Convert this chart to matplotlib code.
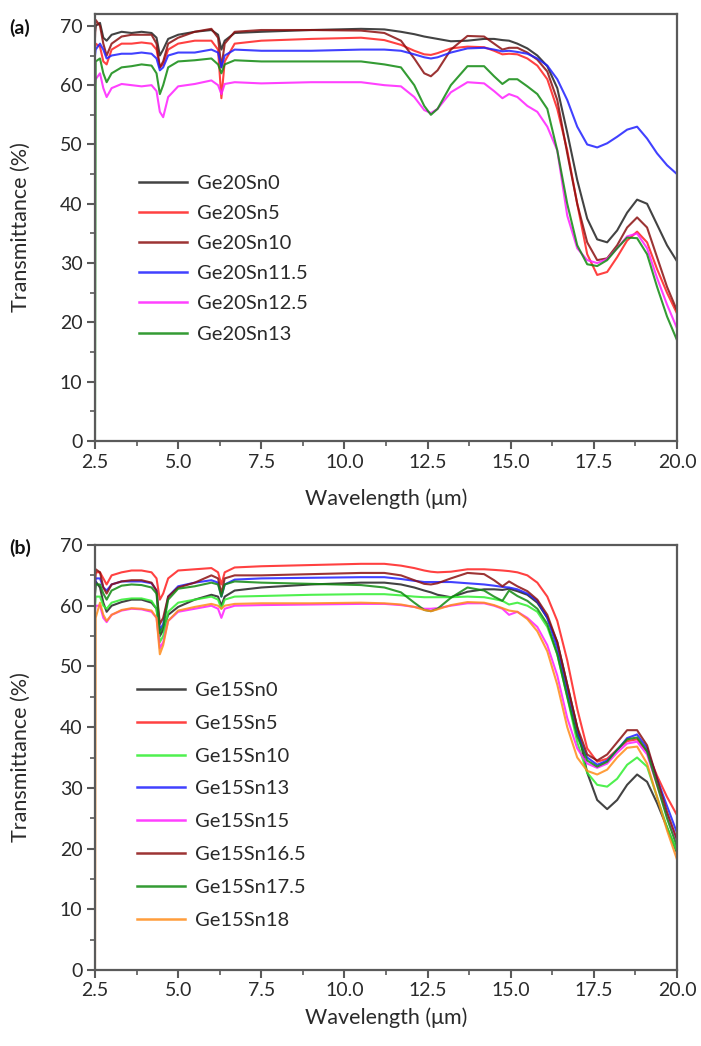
import matplotlib
matplotlib.use("Agg")
import matplotlib.pyplot as plt
from matplotlib.ticker import MultipleLocator, FixedLocator

plt.rcParams['font.family'] = ['Lato', 'DejaVu Sans']

# ---------------- data ----------------
wavelength_um = [2.5, 2.52, 2.65, 2.75, 2.85, 3.0, 3.3, 3.6, 3.9, 4.2, 4.35, 4.45, 4.55, 4.7,
                 5.0, 5.5, 6.0, 6.2, 6.3, 6.4, 6.7, 7.5, 9.0, 10.5, 11.2, 11.7, 12.1, 12.4,
                 12.6, 12.8, 13.2, 13.7, 14.2, 14.5, 14.75, 14.95, 15.2, 15.5, 15.8, 16.1,
                 16.4, 16.7, 17.0, 17.3, 17.6, 17.9, 18.2, 18.5, 18.8, 19.1, 19.4, 19.7, 20.0]

# panel (a)
labels_a = ["Ge20Sn0", "Ge20Sn5", "Ge20Sn10", "Ge20Sn11.5", "Ge20Sn12.5", "Ge20Sn13"]
ge20sn0 = [69, 70, 70.5, 68, 67.5, 68.5, 69, 68.8, 69, 68.8, 68, 65, 66, 67.8,
           68.5, 69, 69.3, 68.5, 66, 67.5, 68.8, 69, 69.3, 69.5, 69.4, 69, 68.6, 68.2,
           68, 67.8, 67.4, 67.5, 67.8, 67.8, 67.6, 67.5, 67, 66.2, 65, 63.2,
           59.5, 52, 44, 37.5, 34, 33.5, 35.5, 38.5, 40.7, 40, 36.5, 33, 30.3]
ge20sn5 = [66, 67, 66.5, 64, 63.5, 66, 67, 67, 67.2, 67, 66, 63, 63.5, 66,
           67, 67.5, 67.5, 66, 57.8, 64, 67, 67.5, 67.8, 68, 67.6, 66.8, 65.8, 65.2,
           65.1, 65.4, 66.2, 66.5, 66.4, 65.8, 65.2, 65.3, 65.2, 64.5, 63.3, 61,
           56, 49, 40, 31.5, 28, 28.5, 31, 33.8, 35.3, 33.5, 29, 25, 21.5]
ge20sn10 = [68, 71, 70, 67, 65, 67, 68.2, 68.5, 68.5, 68.5, 67, 63, 64, 67,
            68, 69, 69.5, 68, 63, 67, 69, 69.3, 69.3, 69.2, 68.8, 67.5, 64.5, 62,
            61.5, 62.5, 66, 68.3, 68.2, 67, 66, 66.3, 66.3, 65.5, 64.3, 62.3,
            57.5, 48.5, 40, 33.5, 30.5, 30.8, 33, 36, 37.7, 36, 31, 26, 22]
ge20sn11_5 = [65, 66, 67, 66, 64.5, 65, 65.3, 65.3, 65.5, 65.3, 64.5, 62.5, 63, 65,
              65.5, 65.5, 66, 65.5, 63, 65, 66, 65.8, 65.8, 66, 66, 65.8, 65.2, 64.7,
              64.5, 64.7, 65.5, 66.2, 66.3, 66, 65.7, 65.8, 65.6, 65.3, 64.5, 63.3,
              61, 57.5, 53, 50, 49.5, 50.2, 51.3, 52.5, 53, 51, 48.5, 46.5, 45]
ge20sn12_5 = [60, 61, 62, 59.5, 58, 59.5, 60.2, 60, 59.8, 60, 59, 55.5, 54.6, 58,
              59.8, 60.2, 60.8, 60, 58.5, 60.2, 60.5, 60.3, 60.5, 60.5, 60, 59.8, 58, 55.8,
              55.3, 56, 58.8, 60.5, 60.3, 59, 57.8, 58.5, 58, 56.5, 55.5, 53,
              49, 38, 32.5, 30.5, 30, 30.7, 32.5, 34.5, 35, 32.5, 27.5, 23, 19]
ge20sn13 = [0, 64, 64.5, 62, 60.5, 62, 63, 63.2, 63.5, 63.3, 62, 58.5, 60, 63,
            64, 64.2, 64.5, 63.5, 62, 63.5, 64.2, 64, 64, 64, 63.5, 63, 60, 56.5,
            55, 56, 60, 63.2, 63.2, 61.5, 60.2, 61, 61, 59.8, 58.5, 56,
            49, 40, 33, 29.8, 29.5, 30.5, 32.5, 34.3, 34.2, 31.5, 26, 21, 17]

# panel (b)
labels_b = ["Ge15Sn0", "Ge15Sn5", "Ge15Sn10", "Ge15Sn13", "Ge15Sn15", "Ge15Sn16.5",
            "Ge15Sn17.5", "Ge15Sn18"]
ge15sn0 = [62, 64, 63, 60.5, 59, 60, 60.6, 61, 61, 60.5, 59.5, 55, 56, 58.5,
           59.8, 61, 61.8, 61.5, 60, 61.5, 62.5, 63, 63.5, 63.8, 63.8, 63.5, 63, 62.5,
           62.2, 61.8, 61.4, 62.3, 62.7, 62.7, 62.6, 62.8, 62.4, 61.8, 60.5, 58,
           54, 47, 40, 32.5, 28, 26.5, 28, 30.5, 32.2, 31, 27.5, 23.5, 19.3]
ge15sn5 = [64, 65.5, 65.5, 64.5, 63.5, 65, 65.5, 65.8, 65.8, 65.5, 64.5, 61, 62, 64.5,
           65.8, 66, 66.2, 65.5, 63.5, 65.5, 66.3, 66.5, 66.7, 66.9, 66.9, 66.6, 66.2, 65.8,
           65.6, 65.5, 65.6, 66, 66, 65.9, 65.8, 65.7, 65.5, 65, 63.8, 61.5,
           57.5, 51, 43, 36.5, 34.3, 34.8, 36.3, 37.7, 38, 36, 32, 28.5, 25.5]
ge15sn10 = [60, 61.5, 61.5, 60, 59.5, 60.5, 61, 61.2, 61.2, 60.8, 59.5, 54, 55, 59,
            60.5, 61, 61.5, 61, 59.5, 61, 61.5, 61.6, 61.8, 61.9, 61.9, 61.7, 61.5, 61.4,
            61.4, 61.4, 61.4, 61.5, 61.4, 61.1, 60.8, 60.2, 60.5, 60, 59, 56.5,
            52, 45, 37.5, 32.5, 30.5, 30.2, 31.5, 33.8, 35, 33.5, 28.5, 23.5, 19.5]
ge15sn13 = [63, 64.5, 64.5, 63, 62.5, 63.5, 64, 64, 64, 63.7, 62.5, 56, 57, 61.5,
            63.2, 63.8, 64.2, 63.8, 61.5, 63.5, 64.3, 64.5, 64.6, 64.7, 64.7, 64.4, 64.1, 63.9,
            63.9, 63.9, 63.9, 63.7, 63.5, 63.3, 63.1, 63, 62.7, 62, 60.8, 58,
            53, 46, 39, 35, 33.8, 34.5, 36.2, 38.2, 38.8, 36.5, 31.5, 27, 22.6]
ge15sn15 = [59, 60, 60, 58, 57.3, 58.5, 59.2, 59.5, 59.4, 59, 58, 53, 54, 57.5,
            59, 59.5, 60, 59.5, 58, 59.5, 60, 60.1, 60.2, 60.3, 60.3, 60.1, 59.8, 59.5,
            59.5, 59.6, 60, 60.4, 60.4, 60, 59.5, 58.5, 59, 58, 56.5, 53.5,
            48.5, 41.5, 36.5, 34, 33.3, 34, 35.8, 37.3, 37.6, 35.5, 30.5, 25.5, 21]
ge15sn16_5 = [64, 66, 65.5, 63, 62, 63.5, 64, 64.2, 64.2, 63.8, 62.5, 57, 58, 61.5,
              63, 63.8, 65, 64.5, 62, 64.5, 65, 65, 65.2, 65.4, 65.4, 65, 64.2, 63.6,
              63.5, 63.7, 64.5, 65.4, 65.2, 64.2, 63.2, 64, 63.2, 62.4, 61, 58.5,
              54, 47, 40, 35.5, 34.5, 35.5, 37.5, 39.5, 39.5, 37, 31.5, 26, 21.5]
ge15sn17_5 = [62, 63.5, 63.5, 62, 61, 62.5, 63.3, 63.5, 63.4, 63, 62, 55.5, 56.5, 61,
              62.8, 63.2, 63.8, 63.5, 61.5, 63.5, 64, 63.8, 63.6, 63.4, 63, 62.2, 60.5, 59.3,
              59.1, 59.5, 61.3, 63, 62.5, 61.5, 60.8, 62.5, 61.6, 60.8, 59.5, 57,
              52, 45, 38.5, 34.5, 33.5, 34.3, 36.3, 38, 38.3, 36, 30.5, 25, 20.3]
ge15sn18 = [0, 58, 60.5, 58.5, 57.5, 58.5, 59.3, 59.6, 59.5, 59.2, 58, 52, 53.5, 57.5,
            59.2, 59.8, 60.3, 60, 59.5, 60, 60.3, 60.4, 60.4, 60.5, 60.4, 60.2, 59.8, 59.3,
            59.1, 59.4, 60.1, 60.6, 60.5, 60.1, 59.6, 59.2, 59, 57.8, 55.8, 52.5,
            47, 40, 35, 32.8, 32.2, 33, 35, 36.6, 36.8, 34, 28.5, 23, 18.2]

series_a = [ge20sn0, ge20sn5, ge20sn10, ge20sn11_5, ge20sn12_5, ge20sn13]
series_b = [ge15sn0, ge15sn5, ge15sn10, ge15sn13, ge15sn15, ge15sn16_5, ge15sn17_5, ge15sn18]
colors_a = ['#222222', '#ff2020', '#8b1010', '#2020ff', '#ff20ff', '#108a10']
colors_b = ['#222222', '#ff2020', '#30ee30', '#2020ff', '#ff20ff', '#8b1010', '#108a10', '#ff8c1a']

xticks = [2.5, 5.0, 7.5, 10.0, 12.5, 15.0, 17.5, 20.0]
xticklabels = ["2.5", "5.0", "7.5", "10.0", "12.5", "15.0", "17.5", "20.0"]
yticks = [0, 10, 20, 30, 40, 50, 60, 70]

# ---------------- figure ----------------
W, H = 701, 1046
fig = plt.figure(figsize=(W / 100, H / 100), dpi=100)

def px_axes(l, t, r, b):
    return fig.add_axes([l / W, 1 - b / H, (r - l) / W, (b - t) / H])

ax_a = px_axes(95, 14, 677, 441)
ax_b = px_axes(95, 545, 677, 970)

spine_col = '#5a5a5a'
text_col = '#2a2a2a'

def style(ax, ymax, xlabel_y, leg_anchor, leg_spacing, series, labels, colors):
    for ys, lab, c in zip(series, labels, colors):
        ax.plot(wavelength_um, ys, color=c, lw=1.5, alpha=0.85, label=lab)
    ax.set_xlim(2.5, 20.0)
    ax.set_ylim(0, ymax)
    ax.xaxis.set_major_locator(FixedLocator(xticks))
    ax.set_xticklabels(xticklabels)
    ax.xaxis.set_minor_locator(MultipleLocator(1.25))
    ax.yaxis.set_major_locator(FixedLocator(yticks))
    ax.yaxis.set_minor_locator(FixedLocator([5, 15, 25, 35, 45, 55, 65]))
    ax.tick_params(which='major', direction='out', length=6, width=1.5,
                   color=spine_col, labelsize=14, labelcolor=text_col, pad=3)
    ax.tick_params(which='minor', direction='out', length=3.5, width=1.2, color=spine_col)
    for s in ax.spines.values():
        s.set_color(spine_col)
        s.set_linewidth(1.6)
    ax.set_xlabel("Wavelength (\u03bcm)", fontsize=15.5, color=text_col)
    ax.xaxis.set_label_coords(0.5, xlabel_y)
    ax.set_ylabel("Transmittance (%)", fontsize=15.5, color=text_col)
    ax.yaxis.set_label_coords(-0.11, 0.5)
    leg = ax.legend(loc='upper left', bbox_to_anchor=leg_anchor, frameon=False,
                    borderpad=0, borderaxespad=0, handlelength=2.4, handletextpad=0.5,
                    labelspacing=leg_spacing, fontsize=14.5)
    for line in leg.get_lines():
        line.set_linewidth(1.8)
    for t in leg.get_texts():
        t.set_color(text_col)

style(ax_a, 72, -0.112, (0.075, 0.624), 0.65, series_a, labels_a, colors_a)
style(ax_b, 70, -0.088, (0.072, 0.678), 0.78, series_b, labels_b, colors_b)

fig.text(9 / W, 1 - 28 / H, "(a)", fontsize=14, fontweight='bold', va='center', color='#111111')
fig.text(9 / W, 1 - 548 / H, "(b)", fontsize=14, fontweight='bold', va='center', color='#111111')

fig.savefig("out.png", dpi=100, facecolor='white')
